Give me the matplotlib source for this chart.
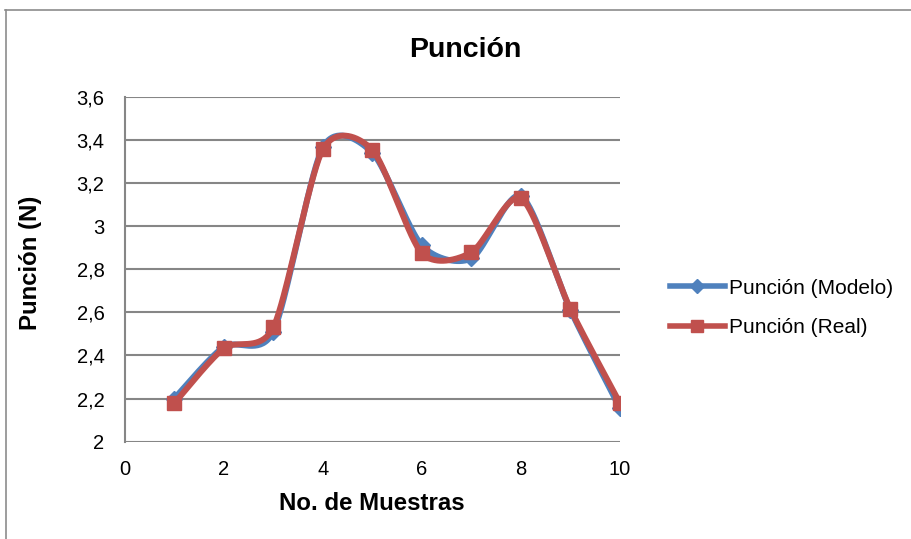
import numpy as np
import matplotlib
matplotlib.use("Agg")
import matplotlib.pyplot as plt
from matplotlib.lines import Line2D

plt.rcParams['font.family'] = ['Liberation Sans', 'DejaVu Sans']

muestras = [1, 2, 3, 4, 5, 6, 7, 8, 9, 10]
modelo = [2.20, 2.44, 2.51, 3.365, 3.34, 2.91, 2.85, 3.14, 2.61, 2.155]
real = [2.178, 2.433, 2.53, 3.356, 3.353, 2.874, 2.878, 3.13, 2.615, 2.178]

x_ticks = [0, 2, 4, 6, 8, 10]
y_ticks = [2, 2.2, 2.4, 2.6, 2.8, 3, 3.2, 3.4, 3.6]

BLUE = '#4F81BD'
RED = '#C0504D'
GRID = '#868686'


def smooth(xs, ys, k=0.13, n=40):
    # smoothed line like Excel: Bezier segments through the points
    p = np.column_stack([xs, ys]).astype(float)
    ext = np.vstack([p[0], p, p[-1]])
    out = []
    t = np.linspace(0, 1, n)[:, None]
    for i in range(len(p) - 1):
        p0 = ext[i + 1]
        p3 = ext[i + 2]
        c1 = p0 + (ext[i + 2] - ext[i]) * k
        c2 = p3 - (ext[i + 3] - ext[i + 1]) * k
        seg = ((1 - t) ** 3) * p0 + 3 * ((1 - t) ** 2) * t * c1 + 3 * (1 - t) * t ** 2 * c2 + t ** 3 * p3
        out.append(seg if i == 0 else seg[1:])
    out = np.vstack(out)
    return out[:, 0], out[:, 1]


fig = plt.figure(figsize=(9.11, 5.39), dpi=100)
W, H = 911.0, 539.0
ax = fig.add_axes([124.7 / W, 1 - 441.7 / H, (620 - 124.7) / W, (441.7 - 96.7) / H])

# chart area border
fig.add_artist(Line2D([5 / W, 1.0], [1 - 10 / H, 1 - 10 / H], transform=fig.transFigure, color='#8c8c8c', lw=1.2))
fig.add_artist(Line2D([6 / W, 6 / W], [1 - 10 / H, 0.0], transform=fig.transFigure, color='#8c8c8c', lw=1.2))

for y in y_ticks:
    ax.axhline(y, color=GRID, lw=1.5, zorder=1)

sx, sy = smooth(muestras, modelo)
ax.plot(sx, sy, color=BLUE, lw=4.3, solid_capstyle='round', zorder=3)
ax.plot(muestras, modelo, ls='none', marker='D', ms=8, color=BLUE, zorder=3)
sx, sy = smooth(muestras, real)
ax.plot(sx, sy, color=RED, lw=4.3, solid_capstyle='round', zorder=4)
ax.plot(muestras, real, ls='none', marker='s', ms=10.5, color=RED, zorder=4)

ax.set_xlim(0, 10)
ax.set_ylim(2, 3.6)
ax.set_xticks(x_ticks)
ax.set_yticks(y_ticks)
ax.set_yticklabels([('%g' % v).replace('.', ',') for v in y_ticks])
ax.tick_params(length=0, labelsize=14.5)
ax.tick_params(axis='y', pad=14.5)
ax.tick_params(axis='x', pad=13)
for s in ['top', 'right', 'bottom']:
    ax.spines[s].set_visible(False)
ax.spines['left'].set_color(GRID)
ax.spines['left'].set_linewidth(1.5)

fig.text(465 / W, 1 - 50 / H, 'Punción', ha='center', va='center', fontsize=20.5, fontweight='bold')
fig.text(372 / W, 1 - 503 / H, 'No. de Muestras', ha='center', va='center', fontsize=17.3, fontweight='bold')
fig.text(31 / W, 1 - 263 / H, 'Punción (N)', ha='center', va='center', rotation=90, fontsize=17.3, fontweight='bold')

handles = [
    Line2D([], [], color=BLUE, lw=4, marker='D', ms=7),
    Line2D([], [], color=RED, lw=4, marker='s', ms=9),
]
fig.legend(handles, ['Punción (Modelo)', 'Punción (Real)'], loc='center left',
           bbox_to_anchor=(662 / W, 1 - 308 / H), frameon=False, fontsize=15,
           handlelength=2.6, handletextpad=0.2, labelspacing=1.0, borderaxespad=0)

fig.savefig('out.png', dpi=100)
